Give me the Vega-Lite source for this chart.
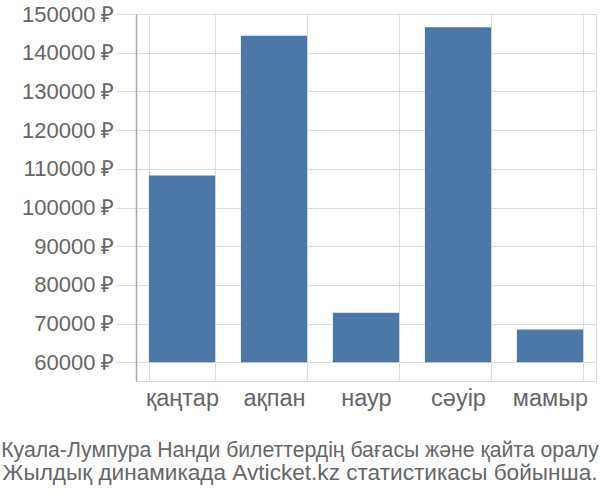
{
  "$schema": "https://vega.github.io/schema/vega-lite/v6.json",
  "width": 460,
  "height": 367,
  "autosize": {"type": "none"},
  "padding": {"left": 136, "top": 14, "right": 4, "bottom": 119},
  "data": {
    "values": [
      {"month": "қаңтар", "price": 108300},
      {"month": "ақпан", "price": 144400},
      {"month": "наур", "price": 72800},
      {"month": "сәуір", "price": 146600},
      {"month": "мамыр", "price": 68500}
    ]
  },
  "title": {
    "text": "Куала-Лумпура Нанди билеттердің бағасы және қайта оралу",
    "subtitle": "Жылдық динамикада Avticket.kz статистикасы бойынша.",
    "orient": "bottom",
    "anchor": "middle",
    "font": "Liberation Sans",
    "fontSize": 21.2,
    "fontWeight": "normal",
    "color": "#666666",
    "subtitleFont": "Liberation Sans",
    "subtitleFontSize": 22.6,
    "subtitleColor": "#666666",
    "subtitlePadding": 1,
    "offset": 30,
    "dx": -66
  },
  "mark": {"type": "bar", "color": "#4c78a8"},
  "encoding": {
    "x": {
      "field": "month",
      "type": "nominal",
      "sort": null,
      "scale": {"paddingInner": 0.28, "paddingOuter": 0.14},
      "axis": {
        "title": null,
        "labelAngle": 0,
        "domain": false,
        "ticks": false,
        "grid": true,
        "tickBand": "extent",
        "gridColor": "#dddddd",
        "gridWidth": 1,
        "labelFont": "Liberation Sans",
        "labelFontSize": 23.5,
        "labelColor": "#666666",
        "labelPadding": 5
      }
    },
    "y": {
      "field": "price",
      "type": "quantitative",
      "scale": {"domain": [55170, 150000], "nice": false, "zero": false},
      "axis": {
        "title": null,
        "values": [60000, 70000, 80000, 90000, 100000, 110000, 120000, 130000, 140000, 150000],
        "labelExpr": "datum.value + ' ₽'",
        "domain": true,
        "domainColor": "#aaaaaa",
        "domainWidth": 1.5,
        "grid": true,
        "gridColor": "#dddddd",
        "ticks": true,
        "tickSize": 20,
        "tickColor": "#dddddd",
        "labelFont": "Liberation Sans",
        "labelFontSize": 22,
        "labelColor": "#666666",
        "labelPadding": 2
      }
    },
    "y2": {"datum": 60000}
  }
}
